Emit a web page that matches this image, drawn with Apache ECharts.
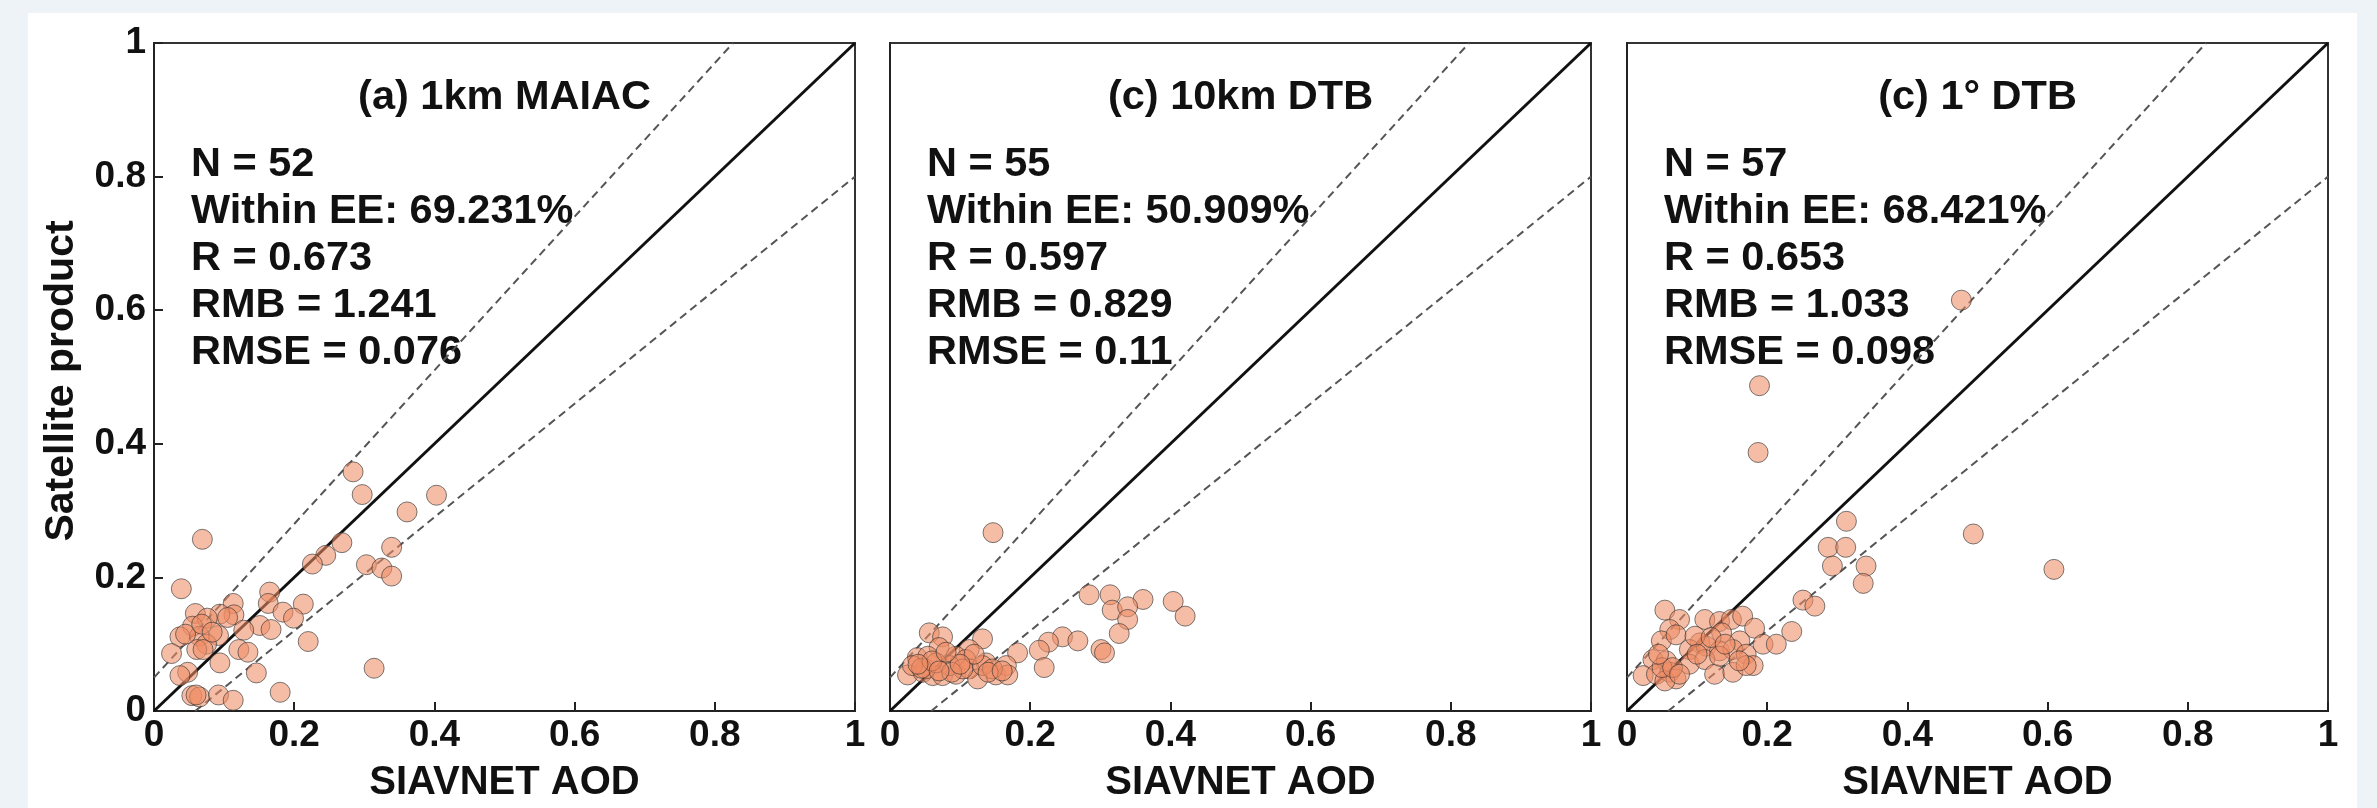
<!DOCTYPE html>
<html>
<head>
<meta charset="utf-8">
<script src="https://cdn.jsdelivr.net/npm/echarts@6/dist/echarts.min.js"></script>
<style>
  html, body { margin: 0; padding: 0; background: #eef3f8; }
  #card { position: absolute; left: 28px; top: 13px; width: 2329px; height: 795px; background: #ffffff; }
  #chart { position: absolute; left: 0; top: 0; width: 2377px; height: 808px; }
</style>
</head>
<body>
<div id="card"></div>
<div id="chart"></div>
<script>
// ---------------- data ----------------
const panelTitles = ['(a) 1km MAIAC', '(c) 10km DTB', '(c) 1\u00b0 DTB'];
const statN = [52, 55, 57];
const statEE = ['69.231%', '50.909%', '68.421%'];
const statR = ['0.673', '0.597', '0.653'];
const statRMB = ['1.241', '0.829', '1.033'];
const statRMSE = ['0.076', '0.11', '0.098'];
const xTickValues = [0, 0.2, 0.4, 0.6, 0.8, 1];

const oneToOne = [[0, 0], [1, 1]];
const eeUpper = [[0, 0.05], [0.8261, 1]];
const eeLower = [[0.0588, 0], [1, 0.8]];

const maiacPoints = [
  [0.284,0.358],[0.297,0.324],[0.403,0.323],[0.361,0.298],[0.069,0.257],[0.268,0.252],
  [0.245,0.233],[0.226,0.220],[0.339,0.245],[0.303,0.219],[0.325,0.214],[0.339,0.202],
  [0.039,0.183],[0.165,0.178],[0.163,0.161],[0.213,0.160],[0.113,0.161],[0.114,0.144],
  [0.059,0.146],[0.094,0.145],[0.076,0.139],[0.184,0.148],[0.199,0.139],[0.055,0.127],
  [0.151,0.128],[0.167,0.122],[0.128,0.121],[0.037,0.111],[0.065,0.112],[0.092,0.113],
  [0.075,0.100],[0.061,0.092],[0.220,0.104],[0.025,0.086],[0.121,0.092],[0.134,0.088],
  [0.094,0.072],[0.146,0.057],[0.048,0.058],[0.037,0.053],[0.314,0.064],[0.054,0.023],
  [0.065,0.021],[0.092,0.024],[0.113,0.016],[0.180,0.028],[0.045,0.115],[0.068,0.130],
  [0.083,0.118],[0.070,0.092],[0.105,0.140],[0.060,0.024]
];
const dtb10Points = [
  [0.147,0.267],[0.284,0.174],[0.314,0.174],[0.361,0.167],[0.404,0.164],[0.317,0.151],
  [0.339,0.156],[0.421,0.142],[0.339,0.137],[0.327,0.116],[0.246,0.111],[0.268,0.105],
  [0.226,0.103],[0.213,0.091],[0.301,0.092],[0.306,0.087],[0.182,0.087],[0.220,0.065],
  [0.056,0.117],[0.075,0.111],[0.132,0.108],[0.070,0.095],[0.113,0.092],[0.039,0.080],
  [0.054,0.082],[0.094,0.082],[0.108,0.077],[0.137,0.072],[0.025,0.054],[0.047,0.058],
  [0.061,0.053],[0.075,0.053],[0.094,0.055],[0.113,0.063],[0.125,0.048],[0.151,0.054],
  [0.166,0.068],[0.168,0.054],[0.051,0.063],[0.085,0.068],[0.032,0.068],[0.104,0.063],
  [0.132,0.068],[0.146,0.063],[0.066,0.072],[0.045,0.064],[0.060,0.075],[0.088,0.058],
  [0.120,0.085],[0.100,0.070],[0.070,0.060],[0.140,0.058],[0.040,0.070],[0.160,0.060],
  [0.080,0.088]
];
const dtb1Points = [
  [0.477,0.615],[0.189,0.487],[0.187,0.387],[0.494,0.265],[0.609,0.212],
  [0.313,0.284],[0.287,0.245],[0.312,0.245],[0.293,0.217],[0.341,0.217],[0.337,0.191],
  [0.251,0.166],[0.268,0.157],[0.235,0.119],[0.054,0.151],[0.075,0.137],[0.061,0.122],
  [0.049,0.105],[0.070,0.114],[0.111,0.137],[0.132,0.134],[0.149,0.137],[0.165,0.142],
  [0.182,0.124],[0.135,0.117],[0.104,0.102],[0.089,0.092],[0.113,0.097],[0.132,0.090],
  [0.161,0.105],[0.151,0.092],[0.170,0.085],[0.194,0.100],[0.213,0.100],[0.037,0.077],
  [0.056,0.075],[0.023,0.053],[0.042,0.055],[0.061,0.058],[0.070,0.048],[0.054,0.045],
  [0.089,0.070],[0.111,0.077],[0.125,0.055],[0.151,0.058],[0.180,0.068],[0.170,0.068],
  [0.132,0.082],[0.097,0.112],[0.050,0.065],[0.065,0.065],[0.075,0.055],[0.045,0.085],
  [0.120,0.110],[0.140,0.100],[0.160,0.075],[0.100,0.085]
];
const panelPoints = [maiacPoints, dtb10Points, dtb1Points];

// ---------------- layout / style ----------------
const FONT = '"Liberation Sans", Arial, Helvetica, sans-serif';
const panelLeft = [154, 890, 1627];
const panelTop = 43, panelW = 701, panelH = 676;

const grids = [], xAxes = [], yAxes = [], series = [], graphics = [];
panelLeft.forEach((left, i) => {
  grids.push({ left: left, top: panelTop, width: panelW, height: panelH,
    show: true, borderColor: '#333', borderWidth: 2, backgroundColor: 'transparent' });
  xAxes.push({
    gridIndex: i, type: 'value', min: 0, max: 1, interval: 0.2,
    axisLine: { show: true, onZero: false, lineStyle: { color: '#222', width: 2 } },
    axisTick: { show: true, inside: true, length: 9, lineStyle: { color: '#222', width: 2 } },
    axisLabel: { show: true, showMinLabel: true, showMaxLabel: true, margin: 6,
      fontFamily: FONT, fontSize: 37, fontWeight: 'bold', color: '#111',
      formatter: v => String(xTickValues.find(t => Math.abs(t - v) < 1e-9) ?? v) },
    splitLine: { show: false },
    name: 'SIAVNET AOD', nameLocation: 'middle', nameGap: 52,
    nameTextStyle: { fontFamily: FONT, fontSize: 40, fontWeight: 'bold', color: '#111' }
  });
  yAxes.push({
    gridIndex: i, type: 'value', min: 0, max: 1, interval: 0.2,
    axisLine: { show: true, onZero: false, lineStyle: { color: '#222', width: 2 } },
    axisTick: { show: i === 0, inside: true, length: 9, lineStyle: { color: '#222', width: 2 } },
    axisLabel: { show: i === 0, showMinLabel: true, showMaxLabel: true, margin: 8,
      fontFamily: FONT, fontSize: 37, fontWeight: 'bold', color: '#111' },
    splitLine: { show: false }
  });
  series.push({ type: 'line', xAxisIndex: i, yAxisIndex: i, data: eeUpper, symbol: 'none',
    lineStyle: { color: '#555', width: 2, type: [8, 5] }, z: 2, silent: true });
  series.push({ type: 'line', xAxisIndex: i, yAxisIndex: i, data: eeLower, symbol: 'none',
    lineStyle: { color: '#555', width: 2, type: [8, 5] }, z: 2, silent: true });
  series.push({ type: 'line', xAxisIndex: i, yAxisIndex: i, data: oneToOne, symbol: 'none',
    lineStyle: { color: '#111', width: 3 }, z: 3, silent: true });
  series.push({ type: 'scatter', xAxisIndex: i, yAxisIndex: i, data: panelPoints[i],
    symbol: 'circle', symbolSize: 20, z: 4,
    itemStyle: { color: 'rgba(240,140,100,0.72)', borderColor: 'rgba(50,50,50,0.8)', borderWidth: 1 } });

  graphics.push({ type: 'text', x: left + panelW / 2, y: 98,
    style: { text: panelTitles[i], font: 'bold 41.5px ' + FONT, fill: '#111',
      textAlign: 'center', textVerticalAlign: 'middle' } });
  graphics.push({ type: 'text', x: left + 37, y: 141,
    style: { text: 'N = ' + statN[i] + '\nWithin EE: ' + statEE[i] + '\nR = ' + statR[i] +
      '\nRMB = ' + statRMB[i] + '\nRMSE = ' + statRMSE[i],
      font: 'bold 41.5px ' + FONT, fill: '#111', lineHeight: 47,
      textAlign: 'left', textVerticalAlign: 'top' } });
});
graphics.push({ type: 'text', x: 62, y: 381, rotation: Math.PI / 2,
  style: { text: 'Satellite product', font: 'bold 41px ' + FONT, fill: '#111',
    textAlign: 'center', textVerticalAlign: 'middle' } });

const chart = echarts.init(document.getElementById('chart'), null, { renderer: 'canvas' });
chart.setOption({
  backgroundColor: 'transparent',
  animation: false,
  grid: grids, xAxis: xAxes, yAxis: yAxes, series: series, graphic: graphics
});
</script>
</body>
</html>
